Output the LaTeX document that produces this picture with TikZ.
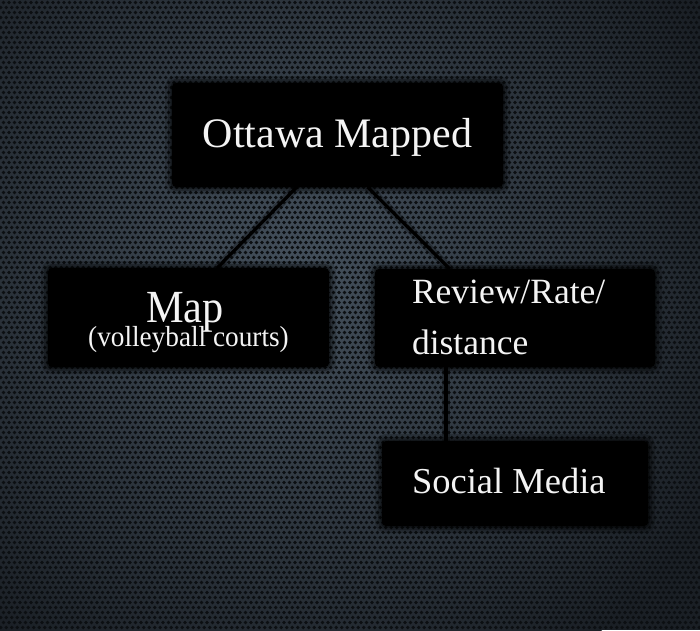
\documentclass[tikz,border=0pt]{standalone}
\usepackage{fontspec}
\setmainfont{Liberation Serif}
\definecolor{bgedge}{HTML}{1A1F25}
\definecolor{bgmid}{HTML}{44505C}
\definecolor{holecol}{HTML}{0C0F12}
\definecolor{txtwhite}{HTML}{F4F4F4}
\newcommand\fsz[1]{\fontsize{#1}{#1}\selectfont}
\pgfdeclarelayer{bg}
\pgfdeclarelayer{links}
\pgfsetlayers{bg,links,main}
\tikzset{
  box/.style={fill=black, rounded corners=4pt, inner sep=0pt, outer sep=0pt,
    text=txtwhite, anchor=center,
    preaction={draw=black, line width=14pt, draw opacity=0.18},
    preaction={draw=black, line width=8pt, draw opacity=0.25},
    preaction={draw=black, line width=3pt, draw opacity=0.35}},
  link/.style={draw=black, line width=3.2pt},
  linkglow/.style={draw=black, line width=8pt, draw opacity=0.28},
  holes/.style={draw=holecol, line width=3.9pt, line cap=round,
    dash pattern=on 0pt off 5.5pt}
}
\begin{document}
\begin{tikzpicture}[x=1pt,y=-1pt]
\useasboundingbox (0,0) rectangle (700,630);
\begin{pgfonlayer}{bg}
  \fill[bgedge] (0,0) rectangle (700,630);
  \begin{scope}
    \clip (0,0) rectangle (700,630);
    \shade[inner color=bgmid, outer color=bgedge] (300,270) circle (470);
    \foreach \r in {0,...,62} {
      \draw[holes] (-2,{\r*10+2.5}) -- (705,{\r*10+2.5});
      \draw[holes, dash phase=2.75pt] (-2,{\r*10+7.5}) -- (705,{\r*10+7.5});
    }
  \end{scope}
\end{pgfonlayer}

\node[box, minimum width=331pt, minimum height=104pt] (top) at (337.5,135)
  {\raisebox{0pt}[30pt][5pt]{\fsz{42}Ottawa Mapped}};

\node[box, minimum width=281pt, minimum height=99pt] (map) at (188.5,317.5)
  {\vbox{\offinterlineskip
     \hbox to 240pt{\hfil\raisebox{0pt}[36pt][0pt]{\fsz{46}\scalebox{0.92}[1]{Map}}\kern7pt\hfil}
     \hbox to 240pt{\hfil\raisebox{0pt}[24pt][3pt]{\fsz{29}\scalebox{0.94}[1]{(volleyball courts)}}\hfil}}};

\node[box, minimum width=280pt, minimum height=98pt] (rev) at (515,318)
  {\vbox{\offinterlineskip
     \hbox to 206pt{\raisebox{0pt}[26pt][0pt]{\fsz{35.5}Review/Rate/}\hfil}
     \hbox to 206pt{\raisebox{0pt}[51pt][5pt]{\fsz{35.5}distance}\hfil}}};

\node[box, minimum width=266pt, minimum height=85pt] (soc) at (515,483.5)
  {\hbox to 206pt{\raisebox{0pt}[26pt][7pt]{\fsz{36.5}Social Media}\hfil}};

\begin{pgfonlayer}{links}
  \draw[linkglow] (top.232.7) -- (map.60);
  \draw[linkglow] (top.300.6) -- (rev.143.8);
  \draw[linkglow] ([xshift=-69pt]rev.south) -- ([xshift=-69pt]rev.south |- soc.north);
  \draw[link] (top.232.7) -- (map.60);
  \draw[link] (top.300.6) -- (rev.143.8);
  \draw[link] ([xshift=-69pt]rev.south) -- ([xshift=-69pt]rev.south |- soc.north);
\end{pgfonlayer}
\end{tikzpicture}
\end{document}
